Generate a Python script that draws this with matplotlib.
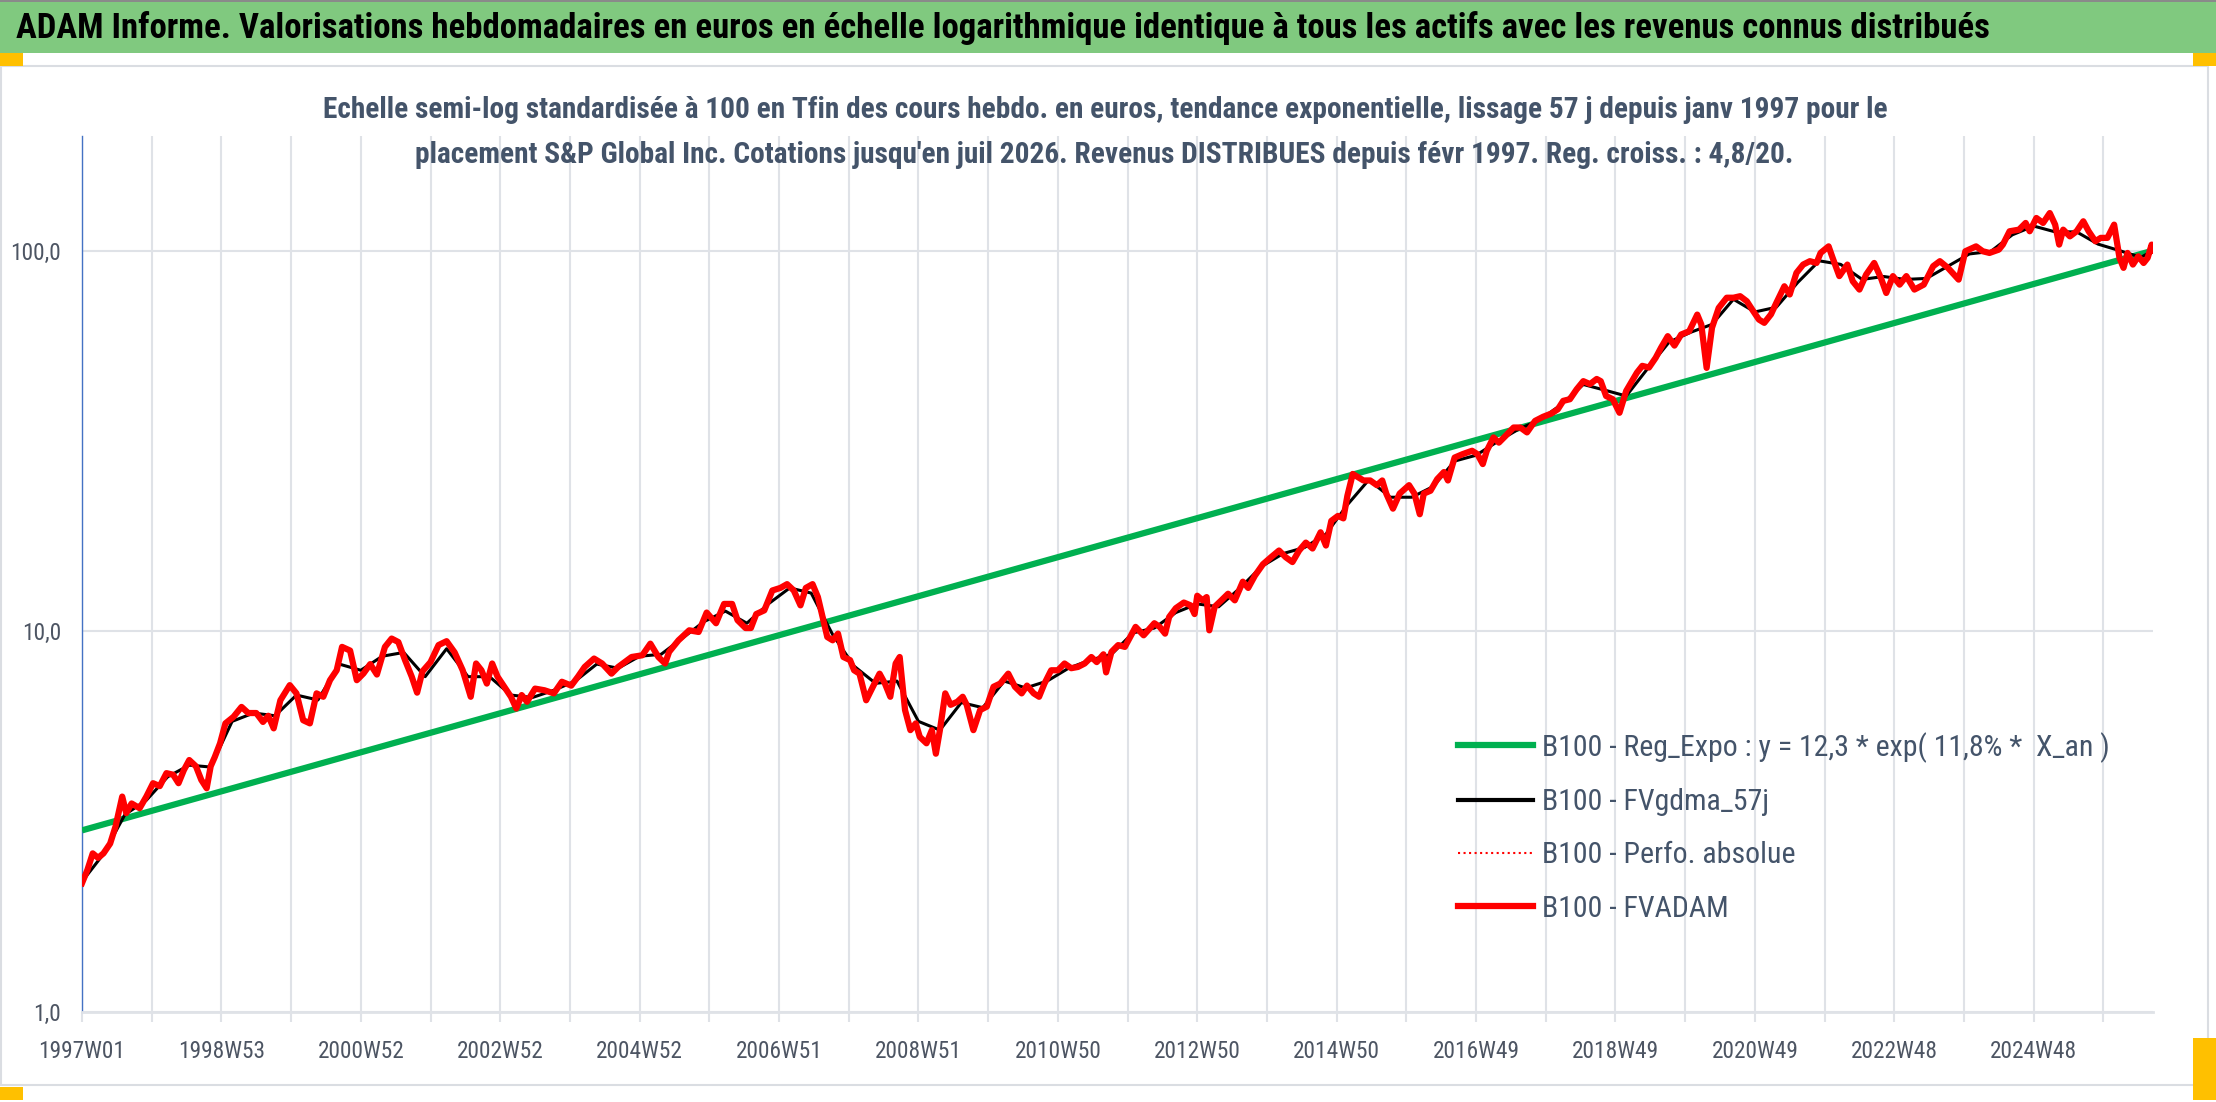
import matplotlib
matplotlib.use("Agg")
import matplotlib.pyplot as plt
from matplotlib import font_manager
from matplotlib.patches import Rectangle
from matplotlib.lines import Line2D

# ---- data (week index since 1997W01, value base 100) ----
red_weeks = [0, 4, 8, 12, 16, 21, 25, 30, 33, 37, 43, 48, 53, 58, 63, 68, 72, 76, 80, 85,
             89, 93, 96, 99, 103, 107, 113, 119, 124, 130, 135, 139, 143, 148, 155, 160, 165,
             170, 175, 180, 185, 190, 194, 200, 205, 210, 215, 220, 226, 231, 236, 241, 246,
             250, 254, 260, 266, 272, 278, 284, 290, 294, 298, 302, 306, 310, 315, 320, 324,
             328, 332, 338, 345, 352, 358, 365, 370, 375, 382, 388, 395, 400, 410, 418, 424,
             430, 435, 438, 445, 453, 460, 466, 473, 479, 485, 489, 495, 499, 503, 509, 515,
             521, 526, 531, 536, 540, 545, 549, 553, 556, 560, 564, 568, 573, 576, 580, 585,
             590, 595, 599, 603, 607, 610, 614, 618, 622, 625, 630, 634, 637, 640, 644, 648,
             653, 657, 660, 665, 670, 675, 680, 685, 691, 696, 701, 705, 710, 714, 718, 723,
             728, 733, 738, 743, 748, 753, 757, 762, 764, 768, 773, 778, 786, 792, 800, 804,
             808, 811, 816, 822, 827, 830, 832, 836, 839, 841, 845, 850, 855, 860, 866, 870,
             875, 881, 887, 893, 898, 903, 908, 913, 918, 924, 928, 932, 937, 941, 944, 948,
             952, 956, 961, 966, 970, 973, 978, 983, 990, 994, 998, 1001, 1006, 1011, 1016,
             1019, 1024, 1030, 1037, 1041, 1045, 1048, 1053, 1057, 1062, 1068, 1073, 1078,
             1084, 1090, 1096, 1101, 1105, 1110, 1115, 1120, 1125, 1130, 1133, 1137, 1142,
             1147, 1152, 1160, 1164, 1169, 1174, 1178, 1183, 1188, 1193, 1199, 1205, 1208,
             1212, 1216, 1221, 1227, 1232, 1237, 1242, 1246, 1251, 1255, 1260, 1264, 1270,
             1274, 1279, 1284, 1289, 1294, 1297, 1303, 1306, 1311, 1317, 1321, 1326, 1331,
             1337, 1342, 1346, 1351, 1356, 1361, 1367, 1374, 1381, 1386, 1392, 1400, 1405,
             1413, 1418, 1423, 1430, 1433, 1438, 1445, 1450, 1453, 1458, 1463, 1468, 1472,
             1475, 1478, 1483, 1488, 1493, 1497, 1502, 1506, 1511, 1516, 1520, 1523, 1526,
             1530, 1534, 1538, 1541, 1544, 1545]
red_vals = [2.18, 2.36, 2.61, 2.54, 2.61, 2.77, 3.07, 3.68, 3.33, 3.53, 3.43, 3.68, 3.99, 3.92,
            4.24, 4.20, 3.99, 4.32, 4.59, 4.42, 4.07, 3.87, 4.42, 4.67, 5.08, 5.73, 5.96, 6.33,
            6.10, 6.10, 5.78, 6.00, 5.56, 6.59, 7.22, 6.87, 5.84, 5.73, 6.87, 6.73, 7.44, 7.90,
            9.10, 8.90, 7.44, 7.75, 8.20, 7.70, 9.10, 9.57, 9.37, 8.40, 7.60, 6.90, 7.85, 8.30,
            9.20, 9.42, 8.80, 7.90, 6.73, 8.23, 7.90, 7.29, 8.23, 7.60, 7.15, 6.73, 6.27, 6.80,
            6.53, 7.07, 7.00, 6.87, 7.37, 7.20, 7.60, 8.06, 8.48, 8.23, 7.74, 8.06, 8.56, 8.65,
            9.28, 8.56, 8.23, 8.83, 9.47, 10.06, 9.96, 11.2, 10.5, 11.8, 11.8, 10.7, 10.2, 10.2,
            11.1, 11.35, 12.8, 13.0, 13.3, 12.8, 11.7, 13.0, 13.3, 12.3, 10.7, 9.66, 9.47, 9.86,
            8.56, 8.40, 7.90, 7.74, 6.59, 7.15, 7.74, 7.29, 6.73, 8.23, 8.56, 6.21, 5.50, 5.73,
            5.28, 5.08, 5.50, 4.77, 5.50, 6.87, 6.41, 6.53, 6.73, 6.41, 5.50, 6.21, 6.34, 7.15,
            7.29, 7.74, 7.15, 6.87, 7.20, 6.87, 6.73, 7.29, 7.90, 7.90, 8.23, 8.00, 8.06, 8.23,
            8.56, 8.30, 8.70, 7.80, 8.83, 9.20, 9.10, 10.27, 9.76, 10.5, 10.27, 9.86, 10.9, 11.5,
            11.9, 11.7, 11.1, 12.4, 12.06, 12.3, 10.06, 11.6, 12.06, 12.55, 12.06, 13.5, 13.0,
            14.0, 15.0, 15.65, 16.3, 15.65, 15.2, 16.3, 17.1, 16.5, 18.2, 16.8, 19.5, 20.1, 19.8,
            22.7, 25.9, 25.4, 24.9, 24.9, 24.2, 24.9, 23.0, 21.0, 23.0, 24.2, 23.0, 20.3, 23.0,
            23.4, 25.1, 26.2, 24.9, 28.6, 29.2, 29.8, 29.2, 27.5, 29.8, 32.3, 31.3, 32.6, 34.3,
            34.3, 33.3, 35.7, 36.6, 37.3, 38.3, 40.3, 40.7, 43.2, 45.4, 44.6, 46.0, 45.4, 41.5,
            40.7, 37.5, 42.8, 47.8, 49.8, 49.3, 52.3, 55.6, 59.6, 56.3, 60.2, 61.4, 67.9, 64.0,
            49.2, 62.7, 70.7, 75.2, 75.2, 75.9, 73.6, 70.0, 65.9, 64.6, 68.0, 72.9, 80.6, 76.7,
            87.4, 91.9, 93.8, 92.8, 98.6, 102.6, 95.7, 85.7, 91.9, 83.1, 79.0, 86.5, 92.8, 84.8,
            77.4, 85.7, 81.4, 85.7, 79.0, 81.4, 91.0, 93.8, 90.1, 83.9, 99.6, 102.6, 99.6, 98.6,
            100.6, 103.7, 112.4, 113.5, 118.2, 112.4, 121.8, 118.2, 125.5, 117.0, 103.7, 113.5,
            109.0, 112.4, 119.4, 112.4, 105.8, 108.0, 108.0, 117.0, 95.7, 90.1, 98.6, 91.9,
            96.6, 92.8, 95.7, 103.7, 100.0]

black_weeks = list(range(0, 1537, 16)) + [1545]
black_vals = [2.2, 2.6, 3.3, 3.6, 4.15, 4.45, 4.4, 5.8, 6.1, 6.0, 6.8, 6.6, 8.2, 7.9, 8.6, 8.8,
              7.6, 9.0, 7.6, 7.6, 6.8, 6.7, 7.0, 7.4, 8.2, 8.0, 8.6, 8.7, 9.6, 10.6, 11.3, 10.5,
              11.8, 13.0, 12.6, 9.8, 8.1, 7.3, 7.4, 5.8, 5.5, 6.5, 6.3, 7.4, 7.1, 7.4, 8.0, 8.4,
              8.7, 9.9, 10.2, 11.2, 11.8, 11.6, 13.0, 14.8, 16.0, 16.6, 18.0, 21.5, 25.0, 22.5,
              22.5, 24.0, 28.0, 29.0, 31.5, 34.0, 36.0, 39.5, 44.5, 43.0, 41.5, 49.0, 57.5, 61.0,
              64.0, 74.5, 69.0, 71.0, 82.5, 94.0, 92.0, 84.0, 85.5, 84.0, 84.5, 91.0, 98.0, 99.5,
              110.0, 116.0, 112.0, 112.0, 104.0, 100.0, 96.0, 100.0]

reg_weeks = [0, 1545]
reg_vals = [3.0, 100.0]

n_weeks = 1546
tick_labels = ["1997W01", "1998W53", "2000W52", "2002W52", "2004W52", "2006W51", "2008W51",
               "2010W50", "2012W50", "2014W50", "2016W49", "2018W49", "2020W49", "2022W48",
               "2024W48"]

title = ("ADAM Informe. Valorisations hebdomadaires en euros en échelle logarithmique "
         "identique à tous les actifs avec les revenus connus distribués")
sub1 = ("Echelle semi-log standardisée à 100 en Tfin des cours hebdo. en euros, tendance "
        "exponentielle, lissage 57 j depuis janv 1997 pour le")
sub2 = ("placement S&P Global Inc. Cotations jusqu'en juil 2026. Revenus DISTRIBUES depuis "
        "févr 1997. Reg. croiss. : 4,8/20.")
labels = ["B100 - Reg_Expo : y = 12,3 * exp( 11,8% *  X_an )", "B100 - FVgdma_57j",
          "B100 - Perfo. absolue", "B100 - FVADAM"]


def pick(cands):
    for c in cands:
        try:
            font_manager.findfont(font_manager.FontProperties(family=c),
                                  fallback_to_default=False)
            return c
        except Exception:
            pass
    return "DejaVu Sans"


fnt = pick(["Liberation Sans Narrow", "Roboto Condensed", "Open Sans Condensed",
            "DejaVu Sans Condensed", "Liberation Sans"])
plt.rcParams["font.family"] = [fnt, "DejaVu Sans"]

W, H = 2216, 1102
fig = plt.figure(figsize=(W / 100, H / 100), dpi=100)
fig.patch.set_facecolor("white")


def fx(x):
    return x / W


def fy(y):
    return 1 - y / H


# header bar, frame and little yellow markers (behind the axes)
fig.add_artist(Rectangle((0, fy(53)), 1, 51 / H, transform=fig.transFigure,
                         facecolor="#80c97f", edgecolor="none", zorder=-2))
fig.add_artist(Rectangle((0, fy(2)), 1, 2 / H, transform=fig.transFigure,
                         facecolor="#8a8a8a", edgecolor="none", zorder=-2))
fig.add_artist(Rectangle((fx(1), fy(1085)), fx(2207), (1085 - 66) / H,
                         transform=fig.transFigure, facecolor="white",
                         edgecolor="#dadde2", lw=1.5, zorder=-2))
for (x0, y0, w0, h0) in [(0, 53, 23, 13), (2193, 53, 23, 13), (0, 1087, 23, 13),
                         (2193, 1038, 23, 62)]:
    fig.add_artist(Rectangle((fx(x0), fy(y0 + h0)), w0 / W, h0 / H,
                             transform=fig.transFigure, facecolor="#ffc000",
                             edgecolor="none", zorder=-1))

ax = fig.add_axes([fx(82), fy(1012), fx(2153 - 82), (1012 - 136) / H])
ax.patch.set_alpha(0)
ax.set_yscale("log")
ax.set_ylim(1, 200)
ax.set_xlim(0, n_weeks - 1)

ax.plot(reg_weeks, reg_vals, color="#00b050", lw=4.5, solid_capstyle="butt", zorder=3)
ax.plot(black_weeks, black_vals, color="black", lw=2.2, zorder=4)
ax.plot(red_weeks, red_vals, color="#ff0000", lw=1.0, ls=":", zorder=4)
ax.plot(red_weeks, red_vals, color="#ff0000", lw=4.5, zorder=5, solid_joinstyle="round")

# axes styling
grid_c = "#dfe2e7"
for s in ["top", "right"]:
    ax.spines[s].set_visible(False)
ax.spines["left"].set_color("#4472c4")
ax.spines["left"].set_linewidth(1.0)
ax.spines["bottom"].set_color(grid_c)
ax.spines["bottom"].set_linewidth(2.0)

ax.set_yticks([1, 10, 100])
ax.set_yticklabels(["1,0", "10,0", "100,0"])
ax.yaxis.set_minor_locator(matplotlib.ticker.NullLocator())
ax.tick_params(axis="y", length=0, pad=15, labelsize=15, labelcolor="#4d5563")
ax.grid(axis="y", which="major", color=grid_c, lw=1.5)

ax.set_xticks([i * 104 for i in range(len(tick_labels))])
ax.set_xticklabels(tick_labels)
ax.set_xticks([52 + i * 104 for i in range(15)], minor=True)
ax.tick_params(axis="x", which="both", length=7, width=1.5, color=grid_c,
               direction="out")
ax.tick_params(axis="x", which="major", pad=13, labelsize=15, labelcolor="#4d5563")
ax.grid(axis="x", which="both", color=grid_c, lw=1.5)
ax.set_axisbelow(True)

# texts
t0 = fig.text(fx(16), fy(28), title, fontsize=20, fontweight="bold", color="black",
              ha="left", va="center")
t1 = fig.text(fx(1105), fy(110), sub1, fontsize=17, fontweight="bold", color="#44546a",
              ha="center", va="center")
t2 = fig.text(fx(1104), fy(155), sub2, fontsize=17, fontweight="bold", color="#44546a",
              ha="center", va="center")
tl = fig.text(0, 0, labels[0], fontsize=18)

r = fig.canvas.get_renderer()


def fit(t, target):
    w = t.get_window_extent(r).width
    t.set_fontsize(t.get_fontsize() * target / w)


fit(t0, 1972)
fit(t1, 1568)
t2.set_fontsize(t1.get_fontsize())
fit(tl, 567)
leg_fs = tl.get_fontsize()
tl.remove()

tk = fig.text(0, 0, tick_labels[0], fontsize=15)
fit(tk, 87)
tick_fs = tk.get_fontsize()
tk.remove()
ax.tick_params(axis="both", labelsize=tick_fs)

handles = [Line2D([], [], color="#00b050", lw=4.5),
           Line2D([], [], color="black", lw=3.0),
           Line2D([], [], color="#ff0000", lw=1.5, ls=":"),
           Line2D([], [], color="#ff0000", lw=4.5)]
leg = fig.legend(handles, labels, loc="upper left", bbox_to_anchor=(fx(1458), fy(732)),
                 frameon=False, fontsize=leg_fs, handlelength=2.5, handletextpad=0.3,
                 labelspacing=0.85, borderpad=0, borderaxespad=0, labelcolor="#44546a")

fig.savefig("out.png", dpi=100)
